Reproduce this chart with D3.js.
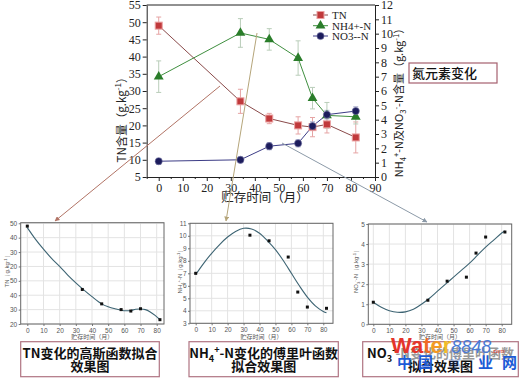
<!DOCTYPE html>
<html><head><meta charset="utf-8">
<script src="https://cdn.jsdelivr.net/npm/d3@7"></script>
<style>body{margin:0;background:#fff} svg{display:block}</style>
</head><body><svg id="c" width="524" height="380"></svg>
<script>
// ---------- data ----------
const months = [0, 34, 46, 58, 64, 70, 82];
const tn     = [49, 27, 22, 20, 19.5, 20.3, 16.5];
const tnErr  = [2.5, 3.5, 1.5, 2.5, 2.8, 2.5, 4.5];
const nh4    = [7.0, 10.05, 9.6, 8.3, 5.5, 4.3, 4.2];
const nh4Err = [1.1, 1.0, 0.75, 1.2, 0.75, 0.9, 0.5];
const no3    = [1.1, 1.2, 2.15, 2.35, 3.55, 4.35, 4.6];
const no3Err = [0.2, 0.2, 0.25, 0.25, 0.3, 0.3, 0.3];
const xTicks = [0, 10, 20, 30, 40, 50, 60, 70, 80, 90];
const leftTicks = [5, 10, 15, 20, 25, 30, 35, 40, 45, 50, 55];
const rightTicks = [0, 1, 2, 3, 4, 5, 6, 7, 8, 9, 10, 11, 12];
const seriesNames = ["TN", "NH4+-N", "NO3--N"];

// fitted curves
const tnFitX = [0, 5, 10, 15, 20, 25, 30, 34, 40, 46, 50, 55, 58, 61, 64, 67, 70, 73, 76, 79, 82];
const tnFitY = [48.5, 44.5, 41, 37.8, 35, 32, 29.3, 27.3, 24.5, 22, 21, 20.2, 19.8, 19.6, 19.7, 20.1, 20.2, 20, 19.2, 18, 16.5];
const nh4FitX = [0, 5, 10, 15, 20, 25, 30, 35, 40, 45, 50, 55, 60, 65, 70, 75, 80, 82];
const nh4FitY = [6.9, 7.8, 8.6, 9.3, 9.9, 10.35, 10.6, 10.55, 10.2, 9.6, 8.9, 8.0, 7.0, 6.0, 5.1, 4.4, 3.95, 3.85];
const no3FitX = [0, 5, 10, 15, 20, 25, 30, 35, 40, 45, 50, 55, 60, 65, 70, 75, 80, 82];
const no3FitY = [1.1, 0.85, 0.68, 0.6, 0.62, 0.75, 1.0, 1.3, 1.65, 2.0, 2.35, 2.7, 3.05, 3.45, 3.85, 4.2, 4.55, 4.65];
const subXTicks = [0, 10, 20, 30, 40, 50, 60, 70, 80];
const tnSubTicks = [50, 45, 40, 35, 30, 25, 20, 15];
const tnSubLabels = ["50", "40", "30", "20", "50", "40", "30", "20"];
const nh4SubTicks = [3, 4, 5, 6, 7, 8, 9, 10, 11];
const no3SubTicks = [0, 1, 2, 3, 4, 5];

// ---------- helpers ----------
const svg = d3.select("#c");
const SERIF = "'Liberation Serif','DejaVu Serif',serif";
const SANS = "'Liberation Sans',Arial,sans-serif";
const CJK = "'Noto Sans CJK SC',sans-serif";

function rich(sel, parts, size) {
  let shift = 0;
  parts.forEach(p => {
    let target = 0, fs = size, txt = p;
    if (p[0] === '_') { target = size * 0.3; fs = size * 0.7; txt = p.slice(1); }
    else if (p[0] === '^') { target = -size * 0.4; fs = size * 0.7; txt = p.slice(1); }
    sel.append('tspan').attr('dy', target - shift).style('font-size', fs + 'px').text(txt);
    shift = target;
  });
}

// ---------- main chart ----------
const M = {l: 146.7, r: 375, t: 5, b: 177};
const x = d3.scaleLinear().domain([-5, 90]).range([M.l, M.r]);
const yL = d3.scaleLinear().domain([5, 55]).range([M.b, M.t]);
const yR = d3.scaleLinear().domain([0, 12]).range([M.b, M.t]);

const main = svg.append('g');
function styleAxis(g) {
  g.selectAll('text').style('font-family', SERIF).style('font-size', '12px').attr('fill', '#222');
  g.selectAll('line,path').attr('stroke', '#222');
}
main.append('g').attr('transform', `translate(0,${M.b})`)
  .call(d3.axisBottom(x).tickValues(xTicks).tickSize(4).tickPadding(2).tickSizeOuter(0)).call(styleAxis);
main.append('g').attr('transform', `translate(0,${M.b})`)
  .call(d3.axisBottom(x).tickValues(xTicks.map(v => v - 5)).tickSize(2).tickFormat('').tickSizeOuter(0)).call(styleAxis);
main.append('g').attr('transform', `translate(${M.l},0)`)
  .call(d3.axisLeft(yL).tickValues(leftTicks).tickSize(4).tickPadding(2).tickSizeOuter(0)).call(styleAxis);
main.append('g').attr('transform', `translate(${M.r},0)`)
  .call(d3.axisRight(yR).tickValues(rightTicks).tickSize(4).tickPadding(2).tickSizeOuter(0)).call(styleAxis);
main.append('line').attr('x1', M.l).attr('x2', M.r).attr('y1', M.t).attr('y2', M.t).attr('stroke', '#222');

const series = [
  {v: tn, e: tnErr, y: yL, color: '#c0393b', line: '#8a4a4a', err: '#e6a4a4'},
  {v: nh4, e: nh4Err, y: yR, color: '#2a7d2a', line: '#3f8f3f', err: '#b9cdb9'},
  {v: no3, e: no3Err, y: yR, color: '#1c1c5c', line: '#3c3c86', err: '#a9adcc'}
];
series.forEach(s => {
  main.append('path').datum(months.map((m, i) => [m, s.v[i]]))
    .attr('d', d3.line().x(d => x(d[0])).y(d => s.y(d[1])))
    .attr('fill', 'none').attr('stroke', s.line).attr('stroke-width', 1);
});
series.forEach(s => {
  const g = main.append('g').attr('stroke', s.err).attr('stroke-width', 1);
  months.forEach((m, i) => {
    const lo = s.y(s.v[i] - s.e[i]), hi = s.y(s.v[i] + s.e[i]), cx = x(m);
    g.append('line').attr('x1', cx).attr('x2', cx).attr('y1', lo).attr('y2', hi);
    g.append('line').attr('x1', cx - 2.5).attr('x2', cx + 2.5).attr('y1', lo).attr('y2', lo);
    g.append('line').attr('x1', cx - 2.5).attr('x2', cx + 2.5).attr('y1', hi).attr('y2', hi);
  });
});
function marker(g, k, cx, cy) {
  const c = series[k].color;
  if (k === 0) g.append('rect').attr('x', cx - 3.5).attr('y', cy - 3.5).attr('width', 7).attr('height', 7)
      .attr('fill', c).attr('stroke', '#eaa0a0').attr('stroke-width', 1);
  else if (k === 1) g.append('path').attr('d', d3.symbol().type(d3.symbolTriangle).size(42)())
      .attr('transform', `translate(${cx},${cy})`).attr('fill', c);
  else g.append('circle').attr('cx', cx).attr('cy', cy).attr('r', 3.6).attr('fill', c).attr('stroke', '#7a7aa8').attr('stroke-width', 0.6);
}
series.forEach((s, k) => months.forEach((m, i) => marker(main, k, x(m), s.y(s.v[i]))));

// legend
const legY = [15, 25.7, 36];
seriesNames.forEach((n, k) => {
  main.append('line').attr('x1', 313).attr('x2', 328).attr('y1', legY[k]).attr('y2', legY[k]).attr('stroke', series[k].line);
  marker(main, k, 320.5, legY[k]);
  main.append('text').attr('x', 332).attr('y', legY[k] + 4).style('font-family', SERIF).style('font-size', '11px').attr('fill', '#222').text(n);
});

// axis titles
const lt = main.append('text').attr('transform', 'translate(126,117) rotate(-90)').attr('text-anchor', 'middle')
  .style('font-family', CJK).style('font-size', '11.5px').attr('fill', '#222');
rich(lt, ['TN含量（g.kg', '^-1', '）'], 11.5);
const rt = main.append('text').attr('transform', 'translate(403,100) rotate(-90)').attr('text-anchor', 'middle')
  .style('font-family', CJK).style('font-size', '11px').attr('fill', '#222');
rich(rt, ['NH', '_4', '^+', '-N及NO', '_3', '^-', '-N含量（g.kg', '^-1', '）'], 11);
main.append('text').attr('x', 265).attr('y', 202).attr('text-anchor', 'middle')
  .style('font-family', CJK).style('font-size', '12.5px').attr('fill', '#222').text('贮存时间（月）');

// title box
svg.append('rect').attr('x', 409).attr('y', 63).attr('width', 88).attr('height', 20)
  .attr('fill', '#fff').attr('stroke', '#a5606e').attr('stroke-width', 1.2);
svg.append('text').attr('x', 412).attr('y', 78).style('font-family', CJK).style('font-size', '13px')
  .style('font-weight', 500).attr('fill', '#111').text('氮元素变化');

// ---------- small fit panels ----------
function panel(cfg) {
  const g = svg.append('g');
  const sx = d3.scaleLinear().domain([0, 80]).range([cfg.x0, cfg.x80]);
  const sy = d3.scaleLinear().domain(cfg.yDom).range([cfg.fb, cfg.ft]);
  g.append('rect').attr('x', cfg.fl).attr('y', cfg.ft).attr('width', cfg.fr - cfg.fl).attr('height', cfg.fb - cfg.ft).attr('fill', '#fff');
  subXTicks.forEach(v => g.append('line').attr('x1', sx(v)).attr('x2', sx(v)).attr('y1', cfg.ft).attr('y2', cfg.fb).attr('stroke', '#e3e3e3'));
  cfg.yTicks.forEach(v => g.append('line').attr('x1', cfg.fl).attr('x2', cfg.fr).attr('y1', sy(v)).attr('y2', sy(v)).attr('stroke', '#e3e3e3'));
  const st = a => { a.select('.domain').remove(); a.selectAll('line').attr('stroke', '#777');
    a.selectAll('text').style('font-family', SANS).style('font-size', '6.5px').attr('fill', '#555'); };
  g.append('g').attr('transform', `translate(0,${cfg.fb})`)
    .call(d3.axisBottom(sx).tickValues(subXTicks).tickSize(2).tickPadding(2)).call(st);
  g.append('g').attr('transform', `translate(${cfg.fl},0)`)
    .call(d3.axisLeft(sy).tickValues(cfg.yTicks).tickSize(2).tickPadding(1.5)
      .tickFormat((d, i) => cfg.yLabels ? cfg.yLabels[i] : d)).call(st);
  g.append('rect').attr('x', cfg.fl).attr('y', cfg.ft).attr('width', cfg.fr - cfg.fl).attr('height', cfg.fb - cfg.ft)
    .attr('fill', 'none').attr('stroke', '#666').attr('stroke-width', 1);
  g.append('path').datum(cfg.fx.map((v, i) => [v, cfg.fy[i]]))
    .attr('d', d3.line().curve(d3.curveCatmullRom).x(d => sx(d[0])).y(d => sy(d[1])))
    .attr('fill', 'none').attr('stroke', '#3d6473').attr('stroke-width', 1.1);
  months.forEach((m, i) => g.append('rect').attr('x', sx(m) - 1.5).attr('y', sy(cfg.pts[i]) - 1.5)
    .attr('width', 3).attr('height', 3).attr('fill', '#111'));
  g.append('text').attr('x', (cfg.fl + cfg.fr) / 2).attr('y', 339).attr('text-anchor', 'middle')
    .style('font-family', CJK).style('font-size', '6px').attr('fill', '#555').text('贮存时间（月）');
  const yl = g.append('text').attr('transform', `translate(${cfg.ylx},270) rotate(-90)`).attr('text-anchor', 'middle')
    .style('font-family', SANS).style('font-size', '6px').attr('fill', '#555');
  rich(yl, cfg.ylab, 6);
}
panel({fl: 20.7, fr: 164, ft: 222.7, fb: 324, x0: 27.3, x80: 156.7, yDom: [15, 50.2], yTicks: tnSubTicks, yLabels: tnSubLabels,
  fx: tnFitX, fy: tnFitY, pts: tn, ylx: 9, ylab: ['TN（g.kg', '^-1', '）']});
panel({fl: 190, fr: 333, ft: 223.3, fb: 323.3, x0: 195.7, x80: 323.3, yDom: [3, 11], yTicks: nh4SubTicks,
  fx: nh4FitX, fy: nh4FitY, pts: nh4, ylx: 182, ylab: ['NH', '_4', '^+', '-N（g.kg', '^-1', '）']});
panel({fl: 368.3, fr: 511.7, ft: 224, fb: 324.3, x0: 373.3, x80: 501.7, yDom: [0, 5], yTicks: no3SubTicks,
  fx: no3FitX, fy: no3FitY, pts: no3, ylx: 358, ylab: ['NO', '_3', '^-', '-N（g.kg', '^-1', '）']});

// caption boxes
function capBox(x0, x1, line1, line2, grey) {
  svg.append('rect').attr('x', x0).attr('y', 341.7).attr('width', x1 - x0).attr('height', 35)
    .attr('fill', '#fff').attr('stroke', '#b07482').attr('stroke-width', 1.2);
  const t1 = svg.append('text').attr('x', (x0 + x1) / 2).attr('y', 358).attr('text-anchor', 'middle')
    .style('font-family', CJK).style('font-size', '13px').style('font-weight', 'bold').attr('fill', '#111');
  rich(t1, line1, 13);
  if (grey) t1.selectAll('tspan').filter((d, i, n) => i === n.length - 1).attr('fill', '#999');
  svg.append('text').attr('x', (x0 + x1) / 2).attr('y', 371).attr('text-anchor', 'middle')
    .style('font-family', CJK).style('font-size', '13px').style('font-weight', 'bold').attr('fill', '#111').text(line2);
}
capBox(20.7, 159.3, ['TN变化的高斯函数拟合'], '效果图');
capBox(189, 338.3, ['NH', '_4', '^+', '-N变化的傅里叶函数'], '拟合效果图');
capBox(362.7, 518.3, ['NO', '_3', '^-', '-N变化的傅里叶函数'], '拟合效果图', true);

// connector arrows
const defs = svg.append('defs');
[['a1', '#b27466'], ['a2', '#b5a57a'], ['a3', '#8c9aa8']].forEach(([id, c]) => {
  defs.append('marker').attr('id', id).attr('viewBox', '0 0 10 10').attr('refX', 9).attr('refY', 5)
    .attr('markerWidth', 5).attr('markerHeight', 5).attr('orient', 'auto')
    .append('path').attr('d', 'M0,0L10,5L0,10z').attr('fill', c);
});
const conns = [[220, 86, 55, 221, 'a1', '#b27466'], [257, 33, 226, 221, 'a2', '#b5a57a'], [282, 143, 427, 222, 'a3', '#8c9aa8']];
conns.forEach(([x1, y1, x2, y2, id, c]) => svg.append('line').attr('x1', x1).attr('y1', y1).attr('x2', x2).attr('y2', y2)
  .attr('stroke', c).attr('stroke-width', 1).attr('marker-end', `url(#${id})`));

// watermark
const wm = svg.append('text').attr('x', 391).attr('y', 353).style('font-family', SANS);
wm.append('tspan').style('font-size', '22px').style('font-weight', 'bold').attr('fill', '#e5342a').text('Wa');
wm.append('tspan').style('font-size', '22px').style('font-weight', 'bold').attr('fill', '#ef6a25').text('t');
wm.append('tspan').style('font-size', '22px').style('font-weight', 'bold').attr('fill', '#f39a24').text('e');
wm.append('tspan').style('font-size', '22px').style('font-weight', 'bold').attr('fill', '#f0bb2a').text('r');
wm.append('tspan').style('font-size', '18px').style('font-style', 'italic').attr('fill', '#4a7ad6').text('8848');
wm.append('tspan').style('font-size', '6px').attr('fill', '#e5342a').text('.com');
const wmChars = ['中', '国', '水', '业', '网'], wmX = [397, 418, 448, 478, 502], wmOp = [1, 1, 0.25, 1, 1];
wmChars.forEach((c, i) => svg.append('text').attr('x', wmX[i]).attr('y', 368).style('font-family', CJK)
  .style('font-size', '15px').style('font-weight', 'bold').attr('fill', '#1d5bd6').attr('opacity', wmOp[i]).text(c));
</script></body></html>
